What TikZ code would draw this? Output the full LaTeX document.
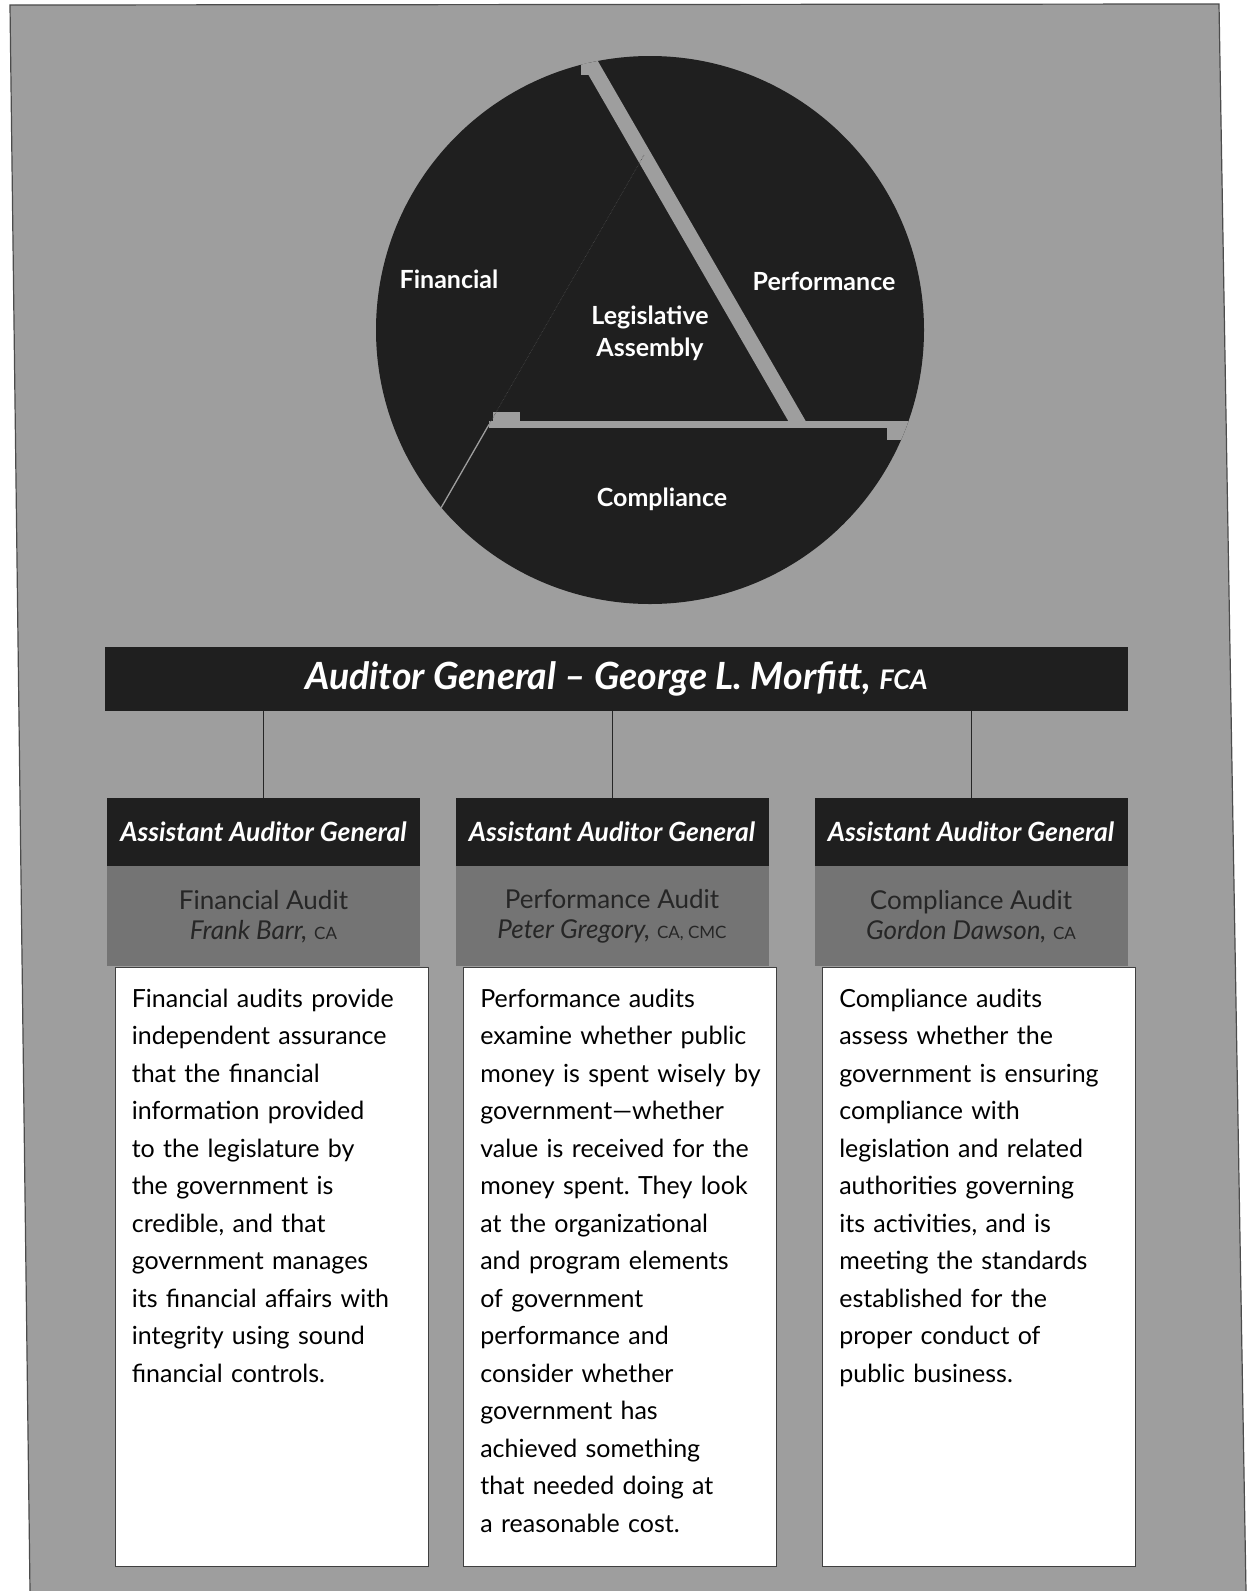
\documentclass[tikz,border=0pt]{standalone}
\usepackage{fontspec}
\setmainfont{Lato}
\usetikzlibrary{positioning,calc}
\definecolor{pagegrey}{HTML}{9E9E9E}
\definecolor{ink}{HTML}{1F1F1F}
\definecolor{bandgrey}{HTML}{747474}
\definecolor{bandtext}{HTML}{262626}
\newcommand{\degree}[1]{{\fontsize{17}{17}\selectfont #1}}
\frenchspacing

\begin{document}
\begin{tikzpicture}[x=1pt,y=-1pt]
\tikzstyle{bar}=[rectangle, fill=ink, text=white, inner sep=0pt]
\tikzstyle{head}=[bar, minimum width=313pt, minimum height=68pt, font=\fontsize{26.5}{30}\selectfont\bfseries\itshape]
\tikzstyle{band}=[rectangle, fill=bandgrey, text=bandtext, minimum width=313pt, minimum height=100pt, inner sep=0pt, align=center, font=\fontsize{26}{30}\selectfont]
\tikzstyle{body}=[rectangle, fill=white, draw=black!75, line width=0.8pt, minimum width=313pt, minimum height=599pt]
\tikzstyle{copy}=[text width=298pt, align=left, inner sep=0pt, anchor=north west, font=\fontsize{25}{37.5}\selectfont]
\tikzstyle{slice}=[text=white, font=\fontsize{25}{32}\selectfont\bfseries, align=center]
\tikzstyle{gap}=[fill=pagegrey]
\tikzstyle{connect}=[draw=black!85, line width=0.9pt]

\useasboundingbox (0,0) rectangle (1249,1591);

% page
\fill[pagegrey] (10,5) -- (1219,4) -- (1246,1591) -- (30,1591) -- cycle;
\draw[black!70, line width=1.2pt] (30,1591) -- (10,5) -- (1219,4) -- (1246,1591);

% the disc and its three cuts
\coordinate (hub) at (650,330);
\coordinate (A) at (644,155);
\coordinate (B) at (489,424.5);
\coordinate (C) at (799,424.5);
\fill[ink] (hub) circle[radius=274];
\begin{scope}
  \clip (hub) circle[radius=274];
  \fill[gap] (790.3,424.5) -- (807.7,424.5) -- (562.6,0) -- (545.2,0) -- cycle;
  \fill[gap] (489,421) rectangle (950,428);
  \fill[gap] (493,412) rectangle (520,421);
  \fill[gap] (887,428) rectangle (910,440);
  \fill[gap] (581,63) rectangle (593,75);
  \draw[pagegrey!35!ink, densely dotted, line width=0.6pt] (A) -- (B);
  \draw[pagegrey, line width=1.3pt] (B) -- ($(A)!1.6!(B)$);
\end{scope}

\node[slice] (fin)  at (449,279) {Financial};
\node[slice] (perf) at (824,281) {Performance};
\node[slice] (leg)  at (650,333) {Legislative\\Assembly};
\node[slice] (comp) at (662,499) {Compliance};

% auditor general and the three branches
\node[bar, minimum width=1023pt, minimum height=64pt, font=\fontsize{37.5}{40}\selectfont\bfseries\itshape] (auditor) at (616.5,679) {Auditor General -- George L. Morfitt, {\fontsize{27}{27}\selectfont FCA}};

\node[head] (aag1) at (263.5,832) {Assistant Auditor General};
\node[head] (aag2) at (612,832)   {Assistant Auditor General};
\node[head] (aag3) at (971,832)   {Assistant Auditor General};

\node[band, below=0pt of aag1] (finaudit)  {Financial Audit\\\textit{Frank Barr,} \degree{CA}};
\node[band, below=0pt of aag2] (perfaudit) {Performance Audit\\\textit{Peter Gregory,} \degree{CA, CMC}};
\node[band, below=0pt of aag3] (compaudit) {Compliance Audit\\\textit{Gordon Dawson,} \degree{CA}};

\node[body, below=0pt of finaudit,  xshift=8pt] (finbody)  {};
\node[body, below=0pt of perfaudit, xshift=8pt] (perfbody) {};
\node[body, below=0pt of compaudit, xshift=8pt] (compbody) {};

\draw[connect] (auditor.south -| aag1.north) -- (aag1.north);
\draw[connect] (auditor.south -| aag2.north) -- (aag2.north);
\draw[connect] (auditor.south -| aag3.north) -- (aag3.north);

\node[copy] (fintext) at ($(finbody.north west)+(17,22)$) {Financial audits provide\\independent assurance\\that the financial\\information provided\\to the legislature by\\the government is\\credible, and that\\government manages\\its financial affairs with\\integrity using sound\\financial controls.};
\node[copy] (perftext) at ($(perfbody.north west)+(17,22)$) {Performance audits\\examine whether public\\money is spent wisely by\\government---whether\\value is received for the\\money spent. They look\\at the organizational\\and program elements\\of government\\performance and\\consider whether\\government has\\achieved something\\that needed doing at\\a reasonable cost.};
\node[copy] (comptext) at ($(compbody.north west)+(17,22)$) {Compliance audits\\assess whether the\\government is ensuring\\compliance with\\legislation and related\\authorities governing\\its activities, and is\\meeting the standards\\established for the\\proper conduct of\\public business.};
\end{tikzpicture}
\end{document}
